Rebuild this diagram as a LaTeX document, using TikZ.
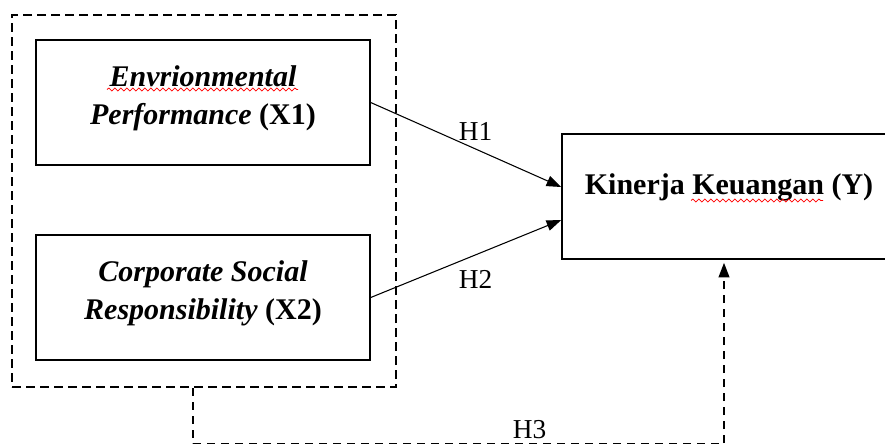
\documentclass[tikz,border=0pt]{standalone}
\usepackage{fontspec}
\setmainfont{Liberation Serif}
\usetikzlibrary{arrows.meta,calc,decorations.pathmorphing}
\tikzset{
  varbox/.style={draw,line width=1.1pt,minimum width=250.5pt,minimum height=93.75pt,
    inner sep=0pt,align=center,font=\fontsize{22.5}{28.5}\selectfont\bfseries},
  groupbox/.style={draw,line width=1.5pt,dash pattern=on 6.5pt off 4pt,
    minimum width=288pt,minimum height=279pt,inner sep=0pt},
  link/.style={line width=.8pt,-{Triangle[length=11pt,width=8pt]}},
  dashlink/.style={line width=1.5pt,dash pattern=on 6pt off 4.5pt,-{Triangle[length=11pt,width=8pt]}},
  hlabel/.style={font=\fontsize{20.5}{24}\selectfont,inner sep=1pt},
  wavy/.style={red,line width=.6pt,decorate,decoration={snake,segment length=4.5pt,amplitude=1.1pt}}
}

\begin{document}
\begin{tikzpicture}[x=0.75pt,y=-0.75pt,line cap=butt,line join=miter]
  \useasboundingbox (0,0) rectangle (885,443);
  \node[groupbox] (grp) at (204,201) {};
  \node[varbox] (X1) at (203,102.5) {\textit{Envrionmental}\\\textit{Performance} (X1)\\[-17pt]\mbox{}};
  \node[varbox] (X2) at (203,297.5) {\textit{Corporate Social}\\\textit{Responsibility} (X2)\\[-17pt]\mbox{}};
  \node[varbox] (Y) at (729,196.5) {Kinerja Keuangan (Y)\\[-10.5pt]\mbox{}};
  % spelling marks
  \draw[wavy] (107,89.5) -- (298,89.5);
  \draw[wavy] (691,200.5) -- (823,200.5);
  % hypotheses
  \draw[link] (X1.east) -- node[hlabel,pos=.55,above=5pt] (h1) {H1} ($(Y.west)+(0,-9.5)$);
  \draw[link] (X2.east) -- node[hlabel,pos=.55,below=10.5pt] (h2) {H2} ($(Y.west)+(0,23.5)$);
  \draw[dashlink] ($(grp.south)+(-11,0)$) -- ++(0,56) -| node[hlabel,pos=.317,above=2.5pt] (h3) {H3} ($(Y.south)+(-5,3)$);
\end{tikzpicture}
\end{document}
